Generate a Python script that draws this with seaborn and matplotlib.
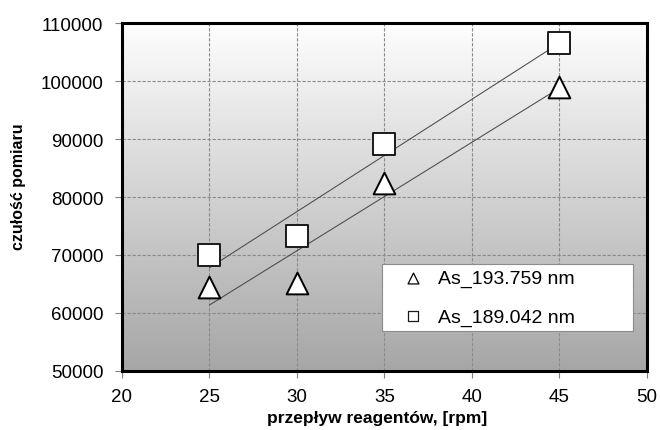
import numpy as np
import pandas as pd
import matplotlib
matplotlib.use("Agg")
import matplotlib.pyplot as plt
import seaborn as sns
from matplotlib.colors import LinearSegmentedColormap

# ---- data ----
flow = [25, 30, 35, 45]
as_193 = [64400, 65100, 82500, 99000]
as_189 = [70000, 73200, 89200, 106600]
series_names = ["As_193.759 nm", "As_189.042 nm"]
x_ticks = [20, 25, 30, 35, 40, 45, 50]
y_ticks = [50000, 60000, 70000, 80000, 90000, 100000, 110000]
x_label = "przepływ reagentów, [rpm]"
y_label = "czułość pomiaru"

sns.set_theme(style="white")
plt.rcParams["font.family"] = ["Liberation Sans", "DejaVu Sans"]

fig = plt.figure(figsize=(6.6, 4.31), dpi=100)
ax = fig.add_axes([0.1848, 0.1369, 0.7955, 0.8074])

# gradient background
cmap = LinearSegmentedColormap.from_list("bg", ["#a6a6a6", "#fefefe"])
ax.imshow(np.linspace(0, 1, 256).reshape(-1, 1), cmap=cmap, origin="lower",
          extent=[x_ticks[0], x_ticks[-1], y_ticks[0], y_ticks[-1]],
          aspect="auto", zorder=0, interpolation="bicubic")

df1 = pd.DataFrame({"x": flow, "y": as_193})
df2 = pd.DataFrame({"x": flow, "y": as_189})

# trend lines
for d in (df1, df2):
    sns.regplot(data=d, x="x", y="y", ax=ax, scatter=False, ci=None, truncate=True,
                line_kws=dict(color="#4a4a4a", lw=0.75, zorder=3))

sns.scatterplot(data=df1, x="x", y="y", ax=ax, marker="^", s=245, color="white",
                edgecolor="black", linewidth=1.4, zorder=4, label=series_names[0])
sns.scatterplot(data=df2, x="x", y="y", ax=ax, marker="s", s=235, color="white",
                edgecolor="#1a1a1a", linewidth=1.4, zorder=4, label=series_names[1])

ax.set_xlim(x_ticks[0], x_ticks[-1])
ax.set_ylim(y_ticks[0], y_ticks[-1])
ax.set_xticks(x_ticks)
ax.set_yticks(y_ticks)
ax.set_xticklabels([str(t) for t in x_ticks], fontsize=13.5, color="black")
ax.set_yticklabels([str(t) for t in y_ticks], fontsize=13.5, color="black")
ax.tick_params(axis="both", direction="out", length=5, width=0.8, color="#808080",
               left=True, bottom=True)
ax.tick_params(axis="x", pad=7.5)
ax.tick_params(axis="y", pad=8.5)
ax.grid(True, linestyle=(0, (3, 1.5)), color="#8a8a8a", lw=0.8)
for gl in ax.get_xgridlines() + ax.get_ygridlines():
    gl.set_zorder(1)
for sp in ax.spines.values():
    sp.set_color("black")
    sp.set_linewidth(2.2)
    sp.set_zorder(6)

ax.set_xlabel(x_label, fontsize=12.5, fontweight="bold", va="top", color="black")
ax.xaxis.set_label_coords(0.486, -0.113)
ax.set_ylabel(y_label, fontsize=11.5, fontweight="bold", color="black")
ax.yaxis.set_label_coords(-0.183, 0.532)

leg = ax.legend(loc="lower left", bbox_to_anchor=(0.4952, 0.115, 0.478, 0.19),
                mode="expand", fontsize=14, frameon=True, fancybox=False,
                shadow=False, markerscale=0.5, borderpad=0.28, labelspacing=1.05,
                handletextpad=0.0, borderaxespad=0, handlelength=2.6)
leg.get_frame().set_edgecolor("#8c8c8c")
leg.get_frame().set_linewidth(0.8)
leg.get_frame().set_facecolor("white")
leg.get_frame().set_alpha(1)
for h in leg.legend_handles:
    h.set_linewidths(0.9)
for t in leg.get_texts():
    t.set_color("black")
leg.set_zorder(7)

fig.savefig("out.png", dpi=100)
